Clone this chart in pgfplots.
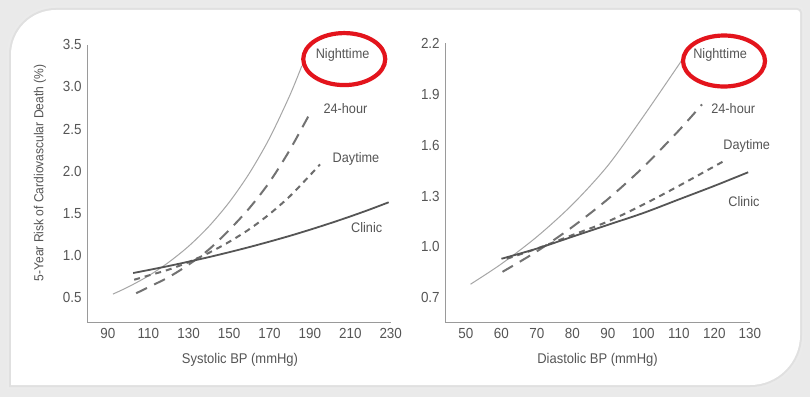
\documentclass[border=0pt]{standalone}
\usepackage{fontspec}
\setmainfont{Liberation Sans}[FakeStretch=0.92]
\usepackage{pgfplots}
\pgfplotsset{compat=1.18}
\definecolor{txt}{HTML}{555555}
\definecolor{axl}{HTML}{9A9A9A}
\definecolor{cnight}{HTML}{A6A6A6}
\definecolor{chour}{HTML}{727272}
\definecolor{cday}{HTML}{6C6C6C}
\definecolor{cclinic}{HTML}{555555}
\definecolor{redc}{HTML}{E3141C}
\definecolor{bg}{HTML}{EAEAEA}
\newcommand{\fs}{\fontsize{13.8}{15}\selectfont}
\newcommand{\ft}{\fontsize{14.6}{16}\selectfont}
\newcommand{\fx}{\fontsize{14.1}{16}\selectfont}
\newcommand{\fy}{\fontsize{13.1}{15}\selectfont}
\tikzset{lab/.style={font=\fs, text=txt}}
\pgfplotsset{
  bpstyle/.style={
    anchor=south west,
    axis x line*=bottom, axis y line*=left,
    axis line style={axl, line width=0.8pt, -},
    major tick length=0pt,
    clip=false,
    tick label style={font=\ft, text=txt},
    /pgf/number format/assume math mode=true,
    xticklabel style={yshift=-2.5pt},
    yticklabel style={xshift=-2.5pt, /pgf/number format/.cd, fixed, fixed zerofill, precision=1},
  },
  snight/.style={cnight, line width=1pt, smooth},
  shour/.style={chour, line width=2pt, dash pattern=on 12pt off 8pt, smooth},
  sday/.style={cday, line width=2pt, dash pattern=on 6pt off 5pt, smooth},
  sclinic/.style={cclinic, line width=1.8pt, smooth},
}
\begin{document}
\begin{tikzpicture}
\useasboundingbox (0,0) rectangle (810pt,397pt);
\fill[bg] (0,0) rectangle (810pt,397pt);
\draw[line width=9pt, gray!16] (11pt,12pt) -- (11pt,342pt) arc[start angle=180,end angle=90,radius=45pt] -- (797pt,387pt) arc[start angle=90,end angle=0,radius=3pt] -- (800pt,62pt) arc[start angle=0,end angle=-90,radius=50pt] -- cycle;
\draw[line width=4pt, gray!24] (11pt,12pt) -- (11pt,342pt) arc[start angle=180,end angle=90,radius=45pt] -- (797pt,387pt) arc[start angle=90,end angle=0,radius=3pt] -- (800pt,62pt) arc[start angle=0,end angle=-90,radius=50pt] -- cycle;
\fill[white] (11pt,12pt) -- (11pt,342pt) arc[start angle=180,end angle=90,radius=45pt] -- (797pt,387pt) arc[start angle=90,end angle=0,radius=3pt] -- (800pt,62pt) arc[start angle=0,end angle=-90,radius=50pt] -- cycle;

% Left: systolic
\begin{axis}[bpstyle,
  at={(87.7pt,74.3pt)},
  x=2.02pt, y=84.2pt,
  xmin=80, xmax=230, ymin=0.2, ymax=3.5,
  xtick={90,110,130,150,170,190,210,230},
  ytick={0.5,1.0,1.5,2.0,2.5,3.0,3.5},
]
\addplot[snight] coordinates {(92.5,0.54) (100,0.624) (110,0.755) (120,0.916) (130,1.109) (140,1.344) (150,1.629) (160,1.974) (170,2.391) (180,2.897) (186,3.25)};
\addplot[shour] coordinates {(104,0.55) (110,0.62) (120,0.74) (130,0.89) (140,1.07) (150,1.30) (160,1.56) (170,1.87) (180,2.25) (191,2.73)};
\addplot[sday] coordinates {(103,0.71) (110,0.76) (120,0.83) (130,0.92) (140,1.03) (150,1.16) (160,1.31) (170,1.49) (180,1.70) (190,1.95) (195,2.08)};
\addplot[sclinic] coordinates {(102.5,0.79) (110,0.825) (120,0.873) (130,0.925) (140,0.979) (150,1.037) (160,1.098) (170,1.163) (180,1.231) (190,1.304) (200,1.381) (210,1.462) (220,1.548) (229,1.63)};
\node[lab] at (axis cs:206.2,3.383) {Nighttime};
\node[lab] at (axis cs:207.6,2.741) {24-hour};
\node[lab] at (axis cs:212.8,2.141) {Daytime};
\node[lab] at (axis cs:218.1,1.334) {Clinic};
\draw[redc, line width=4.2pt] (axis cs:207.0,3.331) ellipse [x radius=41pt, y radius=26pt];
\end{axis}

% Right: diastolic
\begin{axis}[bpstyle,
  at={(445.7pt,74.3pt)},
  x=3.55pt, y=169.6pt,
  xmin=44.3, xmax=130, ymin=0.553, ymax=2.2,
  xtick={50,60,70,80,90,100,110,120,130},
  ytick={0.7,1.0,1.3,1.6,1.9,2.2},
]
\addplot[snight] coordinates {(51.3,0.78) (60,0.90) (70,1.06) (80,1.25) (90,1.48) (100,1.77) (110.8,2.10)};
\addplot[shour] coordinates {(60.3,0.853) (70,0.974) (80,1.118) (90,1.282) (100,1.471) (110,1.687) (116.5,1.84)};
\addplot[sday] coordinates {(61.5,0.93) (70,0.99) (80,1.07) (90,1.15) (100,1.25) (110,1.36) (123,1.51)};
\addplot[sclinic] coordinates {(60,0.93) (70,0.99) (80,1.06) (90,1.13) (100,1.20) (110,1.28) (120,1.36) (129.5,1.44)};
\node[lab] at (axis cs:121.6,2.131) {Nighttime};
\node[lab] at (axis cs:125.3,1.816) {24-hour};
\node[lab] at (axis cs:129.1,1.594) {Daytime};
\node[lab] at (axis cs:128.3,1.270) {Clinic};
\draw[redc, line width=4.2pt] (axis cs:122.7,2.096) ellipse [x radius=41pt, y radius=25.5pt];
\end{axis}

\node[text=txt, font=\fy, rotate=90] at (40pt,224pt) {5-Year Risk of Cardiovascular Death (\%)};
\node[text=txt, font=\fx] at (240pt,37pt) {Systolic BP (mmHg)};
\node[text=txt, font=\fx] at (597.5pt,37pt) {Diastolic BP (mmHg)};
\end{tikzpicture}
\end{document}
